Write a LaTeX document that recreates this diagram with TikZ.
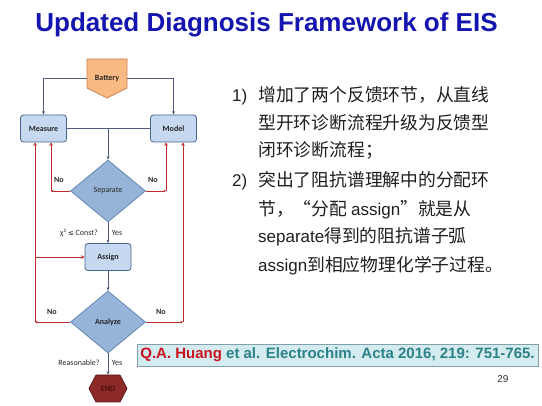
\documentclass[tikz,border=0pt]{standalone}
\usepackage{fontspec}
\setmainfont{Liberation Sans}
\newfontfamily\cjk{Noto Sans CJK SC}
\newfontfamily\carlito{Carlito}
\newfontfamily\dejavu{DejaVu Sans}
\usetikzlibrary{shapes.geometric,arrows.meta}
\definecolor{titleblue}{RGB}{20,20,175}
\definecolor{boxfill}{RGB}{198,217,240}
\definecolor{boxline}{RGB}{70,100,140}
\definecolor{diafill}{RGB}{150,180,215}
\definecolor{dialine}{RGB}{100,135,180}
\definecolor{batfill}{RGB}{250,185,130}
\definecolor{batline}{RGB}{200,130,80}
\definecolor{endfill}{RGB}{140,40,40}
\definecolor{endline}{RGB}{100,25,25}
\definecolor{endtext}{RGB}{75,15,15}
\definecolor{flowline}{RGB}{80,90,130}
\definecolor{fbred}{RGB}{190,45,45}
\definecolor{citefill}{RGB}{212,236,240}
\definecolor{citeline}{RGB}{130,160,170}
\definecolor{citered}{RGB}{200,20,30}
\definecolor{citeteal}{RGB}{45,130,135}
\definecolor{bodytext}{RGB}{30,30,30}
\tikzset{
 procbox/.style={draw=boxline, fill=boxfill, rounded corners=3pt, line width=0.8pt,
   minimum width=46pt, minimum height=27pt, inner sep=0pt,
   font=\carlito\bfseries\fontsize{8}{9}\selectfont, text=black!85},
 decision/.style={diamond, draw=dialine, fill=diafill, line width=0.8pt,
   minimum width=75pt, minimum height=62pt, inner sep=0pt,
   font=\carlito\bfseries\fontsize{8}{9}\selectfont, text=black!85},
 flow/.style={draw=flowline, line width=0.8pt},
 flowarrow/.style={flow, -{Stealth[length=3.5pt,width=3pt]}},
 fb/.style={draw=fbred, line width=0.9pt},
 fbarrow/.style={fb, -{Stealth[length=3.5pt,width=3.5pt]}},
 fbcorner/.style={fb, -{Stealth[length=2.5pt,width=2.5pt]}},
 lbl/.style={font=\carlito\fontsize{8}{9}\selectfont, inner sep=0pt, text=black!85},
 lblb/.style={font=\carlito\bfseries\fontsize{8}{9}\selectfont, inner sep=0pt, text=black!85},
 cjkline/.style={anchor=base west, inner sep=0pt, text=bodytext, font=\cjk\fontsize{17.8}{20}\selectfont},
 numline/.style={anchor=base west, inner sep=0pt, text=bodytext, font=\fontsize{17}{20}\selectfont},
}
\begin{document}
\begin{tikzpicture}[x=1pt,y=-1pt]
\useasboundingbox (0,0) rectangle (542,406);
\node[anchor=base, font=\bfseries\fontsize{26}{30}\selectfont, text=titleblue, inner sep=0pt] (title) at (266.5,32) {Updated Diagnosis Framework of EIS};

% Battery
\draw[fill=batfill, draw=batline, line width=0.8pt] (87,59) -- (127,59) -- (127,88) -- (107,98) -- (87,88) -- cycle;
\node[minimum width=40pt, minimum height=39pt, inner sep=0pt, font=\carlito\bfseries\fontsize{8}{9}\selectfont, text=black!85] (bat) at (107,78.5) {Battery};

\node[procbox] (meas) at (43.5,128.5) {Measure};
\node[procbox] (model) at (173.5,128.5) {Model};
\node[decision, font=\carlito\fontsize{8}{9}\selectfont] (sep) at (108,191) {Separate};
\node[procbox] (assign) at (108,257) {Assign};
\node[decision] (ana) at (108,322) {Analyze};
\draw[fill=endfill, draw=endline, line width=0.8pt] (89,388.5) -- (96,375) -- (120,375) -- (127,388.5) -- (120,402) -- (96,402) -- cycle;
\node[minimum width=38pt, minimum height=27pt, inner sep=0pt, font=\carlito\bfseries\fontsize{8}{9}\selectfont, text=endtext] (end) at (108,388.5) {END};

% main flow
\draw[flowarrow] (bat.west) -| (meas.north);
\draw[flowarrow] (bat.east) -| (model.north);
\draw[flow] (meas.east) -- (model.west);
\coordinate (j) at (sep.north |- meas.east);
\draw[flowarrow] (j) -- (sep.north);
\draw[flowarrow] (sep.south) -- (assign.north);
\draw[flowarrow] (assign.south) -- (ana.north);
\draw[flowarrow] (ana.south) -- (end.north);

% feedback
\coordinate (sl) at (51,191);
\coordinate (sr) at (166,191);
\coordinate (al) at (35,322);
\coordinate (ar) at (183,322);
\coordinate (br) at (35,257);
\draw[fbcorner] (sep.west) -- (sl);
\draw[fbarrow] (sl) -- (sl |- meas.south);
\draw[fbcorner] (sep.east) -- (sr);
\draw[fbarrow] (sr) -- (sr |- model.south);
\draw[fbcorner] (ana.west) -- (al);
\draw[fbarrow] (al) -- (al |- meas.south);
\draw[fbarrow] (br) -- (assign.west);
\draw[fbcorner] (ana.east) -- (ar);
\draw[fbarrow] (ar) -- (ar |- model.south);

% labels
\node[lblb] (no1) at (59,180) {No};
\node[lblb] (no2) at (153,180) {No};
\node[lblb] (no3) at (52,312) {No};
\node[lblb] (no4) at (161,312) {No};
\node[lbl] (q1) at (79,233) {χ² {\dejavu\fontsize{7}{8}\selectfont ≤} Const?};
\node[lbl] (y1) at (117,233) {Yes};
\node[lbl] (q2) at (79,363) {Reasonable?};
\node[lbl] (y2) at (117,363) {Yes};

% text
\node[numline] (n1) at (232,102) {1)};
\node[cjkline] (t1) at (258,102) {增加了两个反馈环节，从直线};
\node[cjkline] (t2) at (258,130) {型开环诊断流程升级为反馈型};
\node[cjkline] (t3) at (258,157) {闭环诊断流程；};
\node[numline] (n2) at (232,187) {2)};
\node[cjkline] (t4) at (258,187) {突出了阻抗谱理解中的分配环};
\node[cjkline] (t5) at (258,216) {节，“分配 {\rmfamily\fontsize{17}{20}\selectfont assign}”就是从};
\node[cjkline] (t6) at (258,243) {{\rmfamily\fontsize{17}{20}\selectfont separate}得到的阻抗谱子弧};
\node[cjkline] (t7) at (258,272) {{\rmfamily\fontsize{17}{20}\selectfont assign}到相应物理化学子过程。};

% citation
\node[draw=citeline, fill=citefill, line width=0.8pt, minimum width=401pt, minimum height=22pt, inner sep=0pt,
  font=\bfseries\fontsize{15}{18}\selectfont] (cite) at (337.5,355)
  {\textcolor{citered}{Q.A. Huang} \textcolor{citeteal}{et al. Electrochim. Acta 2016, 219: 751-765.}};
\node[font=\fontsize{10}{12}\selectfont, text=black!80, inner sep=0pt] (pg) at (503,379) {29};
\end{tikzpicture}
\end{document}
